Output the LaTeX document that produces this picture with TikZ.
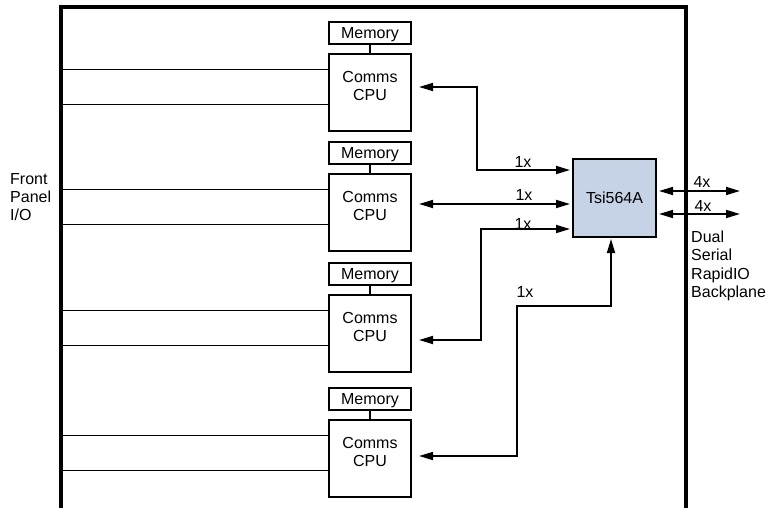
\documentclass[tikz,border=0pt]{standalone}
\usepackage{fontspec}
\setmainfont{Liberation Sans}
\usetikzlibrary{arrows.meta,calc}
\definecolor{tsiblue}{RGB}{198,211,230}
\begin{document}
\begin{tikzpicture}[x=1pt,y=-1pt,
  every node/.style={font=\fontsize{16}{18}\selectfont},
  box/.style={draw, line width=2pt, inner sep=0pt, minimum width=82pt},
  cpubox/.style={box, minimum height=77pt},
  membox/.style={box, minimum height=22pt, text depth=0pt},
  txt/.style={align=center, inner sep=0pt},
  lbl/.style={inner sep=0pt},
  wire/.style={line width=1.6pt},
  bi/.style={line width=1.7pt, {Triangle[length=14pt,width=8pt]}-{Triangle[length=14pt,width=8pt]}},
  frame/.style={line width=3.2pt}]
\useasboundingbox (0,0) rectangle (776,508);
% outer frame (open at bottom)
\draw[frame] (61,520) -- (61,7) -- (686,7) -- (686,520);

% four CPU groups
\foreach \n/\t in {1/53, 2/173, 3/294, 4/419} {
  \node[cpubox, anchor=north west] (cpu\n) at (328,\t) {};
  \node[txt] (cput\n) at ($(cpu\n.north)+(0,33)$) {Comms\\CPU};
  \node[membox, anchor=south] (mem\n) at ($(cpu\n.north)+(0,-8)$) {Memory};
  \draw[wire] (mem\n) -- (cpu\n);
  \draw[wire] (cpu\n.north west) ++(0,16.5) -- ++(-267,0);
  \draw[wire] (cpu\n.north west) ++(0,51.5) -- ++(-267,0);
}

% switch
\node[draw, fill=tsiblue, line width=2pt, minimum width=83pt, minimum height=78pt, inner sep=0pt, text depth=0pt] (tsi) at (614.5,198) {Tsi564A};

% connectors
\coordinate (p1) at (477,87);  \coordinate (q1) at (477,170);
\draw[bi, shorten <=7pt, shorten >=2pt] (cpu1.east |- p1) -- (p1) -- (q1) -- (tsi.west |- q1);
\coordinate (p2) at (0,204);
\draw[bi, shorten <=7pt, shorten >=2pt] (cpu2.east |- p2) -- (tsi.west |- p2);
\coordinate (p3) at (481,340); \coordinate (q3) at (481,229);
\draw[bi, shorten <=7pt, shorten >=2pt] (cpu3.east |- p3) -- (p3) -- (q3) -- (tsi.west |- q3);
\coordinate (p4) at (517,456); \coordinate (q4) at (517,306); \coordinate (r4) at (611,306);
\draw[bi, shorten <=7pt, shorten >=1pt] (cpu4.east |- p4) -- (p4) -- (q4) -- (r4) -- (tsi.south -| r4);

\coordinate (e1) at (740,191); \coordinate (e2) at (740,214);
\draw[bi, shorten <=2pt] (tsi.east |- e1) -- (e1);
\draw[bi, shorten <=2pt] (tsi.east |- e2) -- (e2);

% labels
\node[lbl] (l1) at (523,162) {1x};
\node[lbl] (l2) at (524,195) {1x};
\node[lbl] (l3) at (523,224) {1x};
\node[lbl] (l4) at (525,292) {1x};
\node[lbl] (o1) at (702,182) {4x};
\node[lbl] (o2) at (703,206) {4x};

\node[txt, align=left, anchor=west] (fp) at (10,197) {Front\\Panel\\I/O};
\node[txt, align=left, anchor=west, font=\fontsize{16}{18.5}\selectfont] (bp) at (691,266) {Dual\\Serial\\RapidIO\\Backplane};
\end{tikzpicture}
\end{document}
